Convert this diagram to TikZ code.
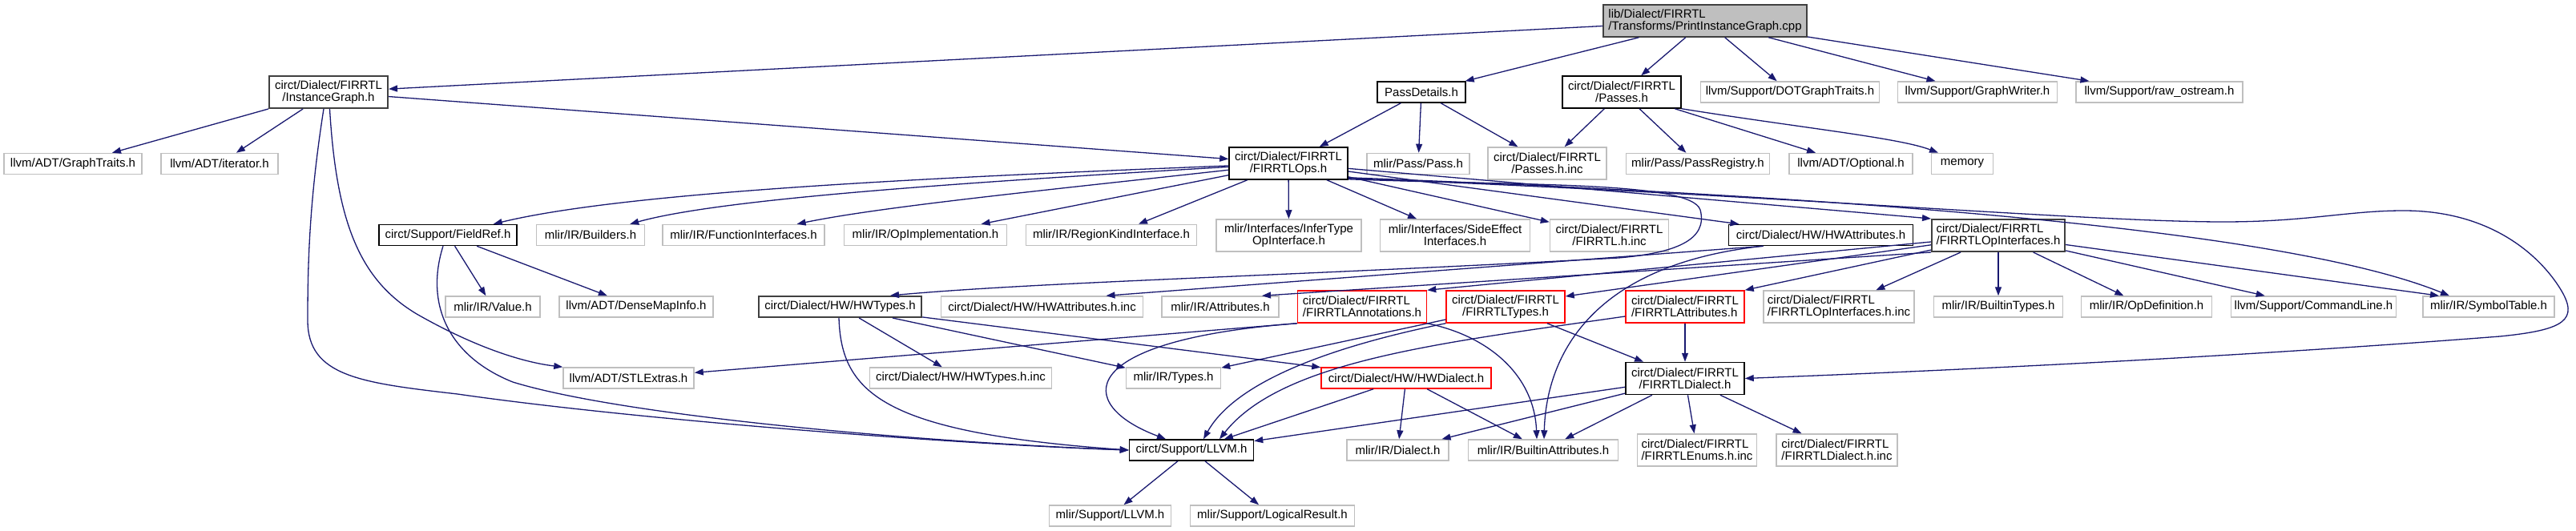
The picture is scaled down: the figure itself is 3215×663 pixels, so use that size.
\documentclass[tikz,border=0pt]{standalone}
\usepackage{fontspec}
\setmainfont{Liberation Sans}
\usetikzlibrary{arrows.meta}

\definecolor{edgeblue}{HTML}{191970}
\definecolor{extgray}{HTML}{BFBFBF}
\definecolor{rootline}{HTML}{404040}

\begin{document}
\begin{tikzpicture}[
    x = 1pt, y = -1pt,
    every node/.style = {font=\fontsize{15}{15}\selectfont},
    file/.style     = {rectangle, draw, line width=1.5pt, fill=white,
                       inner xsep=3pt, inner ysep=2pt,
                       minimum height=26pt, align=center},
    ext/.style      = {file, draw=extgray},
    doc/.style      = {file, draw=black},
    docg/.style     = {file, draw=rootline, line width=2pt},
    trunc/.style    = {file, draw=red},
    rootbox/.style  = {file, draw=rootline, fill=extgray},
    two/.style      = {minimum height=40pt},
    lft/.style      = {align=left},
    arr/.style      = {-{Triangle[length=11pt, width=8pt]}, line width=1.3pt, draw=edgeblue}
]
\useasboundingbox (0,0) rectangle (3215,663);

% rows 0 and 1
\node[rootbox, two, lft, minimum width=254pt] (root)    at (2128,26)    {lib/Dialect/FIRRTL\\/Transforms/PrintInstanceGraph.cpp};
\node[docg, two,  minimum width=148pt] (instg)   at (410,115)    {circt/Dialect/FIRRTL\\/InstanceGraph.h};
\node[doc,        minimum width=110pt] (passdet) at (1774,115)   {PassDetails.h};
\node[doc, two,   minimum width=148pt] (passes)  at (2024,115)   {circt/Dialect/FIRRTL\\/Passes.h};
\node[ext,        minimum width=223pt] (dotgt)   at (2234,115)   {llvm/Support/DOTGraphTraits.h};
\node[ext,        minimum width=199pt] (gwriter) at (2468,115)   {llvm/Support/GraphWriter.h};
\node[ext,        minimum width=208pt] (rawos)   at (2695,115)   {llvm/Support/raw\_ostream.h};

% row 2
\node[ext,        minimum width=172pt] (gtraits)  at (91,204.5)   {llvm/ADT/GraphTraits.h};
\node[ext,        minimum width=146pt] (iter)     at (274,204.5)  {llvm/ADT/iterator.h};
\node[doc, two,   minimum width=148pt] (ops)      at (1608,204)   {circt/Dialect/FIRRTL\\/FIRRTLOps.h};
\node[ext,        minimum width=128pt] (pass)     at (1770,204.5) {mlir/Pass/Pass.h};
\node[ext, two,   minimum width=148pt] (passinc)  at (1931,204)   {circt/Dialect/FIRRTL\\/Passes.h.inc};
\node[ext,        minimum width=179pt] (passreg)  at (2119,204.5) {mlir/Pass/PassRegistry.h};
\node[ext,        minimum width=154pt] (optional) at (2310,204.5) {llvm/ADT/Optional.h};
\node[ext,        minimum width=77pt]  (memory)   at (2449,204.5) {memory};

% row 3
\node[doc,        minimum width=172pt] (fieldref) at (559,293.5)  {circt/Support/FieldRef.h};
\node[ext,        minimum width=135pt] (builders) at (737,293.5)  {mlir/IR/Builders.h};
\node[ext,        minimum width=202pt] (funcif)   at (928,293.5)  {mlir/IR/FunctionInterfaces.h};
\node[ext,        minimum width=203pt] (opimpl)   at (1155,293.5) {mlir/IR/OpImplementation.h};
\node[ext,        minimum width=213pt] (regkind)  at (1387,293.5) {mlir/IR/RegionKindInterface.h};
\node[ext, two,   minimum width=181pt] (infer)    at (1608.5,294) {mlir/Interfaces/InferType\\OpInterface.h};
\node[ext, two,   minimum width=187pt] (sideeff)  at (1816,294)   {mlir/Interfaces/SideEffect\\Interfaces.h};
\node[ext, two,   minimum width=148pt] (firinc)   at (2008.5,294) {circt/Dialect/FIRRTL\\/FIRRTL.h.inc};
\node[doc,        minimum width=230pt] (hwattr)   at (2272.5,293.5) {circt/Dialect/HW/HWAttributes.h};
\node[docg, two, lft, minimum width=166pt] (opif) at (2494,294)   {circt/Dialect/FIRRTL\\/FIRRTLOpInterfaces.h};

% row 4
\node[ext,        minimum width=118pt] (value)     at (615,383)    {mlir/IR/Value.h};
\node[ext,        minimum width=192pt] (densemap)  at (794,383)    {llvm/ADT/DenseMapInfo.h};
\node[docg,       minimum width=203pt] (hwtypes)   at (1048.5,383) {circt/Dialect/HW/HWTypes.h};
\node[ext,        minimum width=252pt] (hwattrinc) at (1300.5,383) {circt/Dialect/HW/HWAttributes.h.inc};
\node[ext,        minimum width=146pt] (attrs)     at (1523,383)   {mlir/IR/Attributes.h};
\node[trunc, two, lft, minimum width=161pt] (annot)  at (1700,383) {circt/Dialect/FIRRTL\\/FIRRTLAnnotations.h};
\node[trunc, two, minimum width=148pt] (types)     at (1879,383)   {circt/Dialect/FIRRTL\\/FIRRTLTypes.h};
\node[trunc, two, lft, minimum width=148pt] (attrsF) at (2103,383) {circt/Dialect/FIRRTL\\/FIRRTLAttributes.h};
\node[ext, two, lft, minimum width=188pt] (opifinc) at (2295,383)  {circt/Dialect/FIRRTL\\/FIRRTLOpInterfaces.h.inc};
\node[ext,        minimum width=161pt] (btypes)    at (2494,383)   {mlir/IR/BuiltinTypes.h};
\node[ext,        minimum width=163pt] (opdef)     at (2679,383)   {mlir/IR/OpDefinition.h};
\node[ext,        minimum width=206pt] (cmdline)   at (2887.5,383) {llvm/Support/CommandLine.h};
\node[ext,        minimum width=164pt] (symtab)    at (3106,383)   {mlir/IR/SymbolTable.h};

% row 5
\node[ext,        minimum width=163pt] (stl)     at (784.5,472)  {llvm/ADT/STLExtras.h};
\node[ext,        minimum width=227pt] (hwtinc)  at (1199,472)   {circt/Dialect/HW/HWTypes.h.inc};
\node[ext,        minimum width=118pt] (irtypes) at (1464.5,472) {mlir/IR/Types.h};
\node[trunc,      minimum width=212pt] (hwdial)  at (1755,472)   {circt/Dialect/HW/HWDialect.h};
\node[doc, two,   minimum width=148pt] (dialect) at (2103,472.5) {circt/Dialect/FIRRTL\\/FIRRTLDialect.h};

% rows 6 and 7
\node[doc,        minimum width=155pt] (llvmh)   at (1487,562)   {circt/Support/LLVM.h};
\node[ext,        minimum width=127pt] (irdial)  at (1744.5,562) {mlir/IR/Dialect.h};
\node[ext,        minimum width=187pt] (battrs)  at (1926,562)   {mlir/IR/BuiltinAttributes.h};
\node[ext, two, lft, minimum width=149pt] (enuminc) at (2118,562) {circt/Dialect/FIRRTL\\/FIRRTLEnums.h.inc};
\node[ext, two, lft, minimum width=151pt] (dialinc) at (2292.5,562) {circt/Dialect/FIRRTL\\/FIRRTLDialect.h.inc};
\node[ext,        minimum width=152pt] (mllvm)   at (1385.5,644) {mlir/Support/LLVM.h};
\node[ext,        minimum width=205pt] (logres)  at (1588,644)   {mlir/Support/LogicalResult.h};

% PrintInstanceGraph.cpp
\draw[arr] (root) -- (instg);
\draw[arr] (root) -- (passdet);
\draw[arr] (root) -- (passes);
\draw[arr] (root) -- (dotgt);
\draw[arr] (root) -- (gwriter);
\draw[arr] (root) -- (rawos);

% InstanceGraph.h
\draw[arr] (instg) -- (gtraits);
\draw[arr] (instg) -- (iter);
\draw[arr] (instg) -- (ops);
\draw[arr] ([xshift=-6pt]instg.south) .. controls (386,250) and (384,330) .. (384,400)
    .. controls (384,470) and (450,478) .. (571,492)
    .. controls (800,525) and (1200,555) .. (llvmh.west);
\draw[arr] ([xshift=1.5pt]instg.south) .. controls (420,280) and (450,350) .. (520,392)
    .. controls (590,432) and (650,452) .. (stl.north west);

% PassDetails.h and Passes.h
\draw[arr] (passdet) -- (ops);
\draw[arr] (passdet) -- (pass);
\draw[arr] (passdet) -- (passinc);
\draw[arr] (passes) -- (passinc);
\draw[arr] (passes) -- (passreg);
\draw[arr] (passes) -- (optional);
\draw[arr] (passes.south east) .. controls (2250,160) and (2370,172) .. ([xshift=-30pt]memory.north);

% FieldRef.h
\draw[arr] (fieldref) -- (value);
\draw[arr] (fieldref) -- (densemap);
\draw[arr] ([xshift=-6pt]fieldref.south) .. controls (530,380) and (560,445) .. (640,477)
    .. controls (780,520) and (1150,552) .. (llvmh.west);

% FIRRTLOps.h
\draw[arr] (ops) .. controls (1150,222) and (780,240) .. (fieldref);
\draw[arr] (ops) .. controls (1200,228) and (900,248) .. (builders);
\draw[arr] (ops) .. controls (1300,238) and (1100,258) .. (funcif);
\draw[arr] (ops) -- (opimpl);
\draw[arr] (ops) -- (regkind);
\draw[arr] (ops) -- (infer);
\draw[arr] (ops) -- (sideeff);
\draw[arr] (ops) -- (firinc);
\draw[arr] (ops) -- (hwattr);
\draw[arr] (ops) -- (opif.north west);
\draw[arr] ([yshift=3pt]ops.south east) .. controls (2300,245) and (2850,285) .. ([xshift=-49pt]symtab.north);
\draw[arr] ([yshift=2pt]ops.south east) .. controls (2200,242) and (2600,277) .. (2775,277)
    .. controls (2880,277) and (2930,263) .. (3000,263)
    .. controls (3110,263) and (3170,320) .. (3195,360)
    .. controls (3220,400) and (3200,412) .. (3120,420)
    .. controls (2800,445) and (2450,462) .. (dialect.east);
\draw[arr] ([yshift=1pt]ops.south east) .. controls (1900,232) and (2110,226) .. (2122,262)
    .. controls (2132,300) and (2090,316) .. (2020,322)
    .. controls (1600,345) and (1300,352) .. ([xshift=-40pt]hwtypes.north east);

% FIRRTLOpInterfaces.h
\draw[arr] (opif) -- (annot.north east);
\draw[arr] (opif) -- ([yshift=13pt]types.east);
\draw[arr] (opif) -- (attrsF.north east);
\draw[arr] (opif.south west) -- ([xshift=52pt]attrs.north);
\draw[arr] (opif) -- (opifinc);
\draw[arr] (opif) -- (btypes);
\draw[arr] (opif) -- (opdef);
\draw[arr] (opif) -- (cmdline);
\draw[arr] (opif) -- ([xshift=-62pt]symtab.north);

% HWAttributes.h
\draw[arr] ([xshift=-72pt]hwattr.south) -- ([xshift=80pt]hwattrinc.north);
\draw[arr] ([xshift=-72pt]hwattr.south) .. controls (1990,330) and (1930,440) .. ([xshift=1pt]battrs.north);

% HWTypes.h
\draw[arr] (hwtypes) -- (hwtinc);
\draw[arr] (hwtypes) -- (irtypes);
\draw[arr] (hwtypes) -- (hwdial);
\draw[arr] ([xshift=-1.5pt]hwtypes.south) .. controls (1050,490) and (1100,540) .. (llvmh.west);

% FIRRTLAnnotations.h, FIRRTLTypes.h, FIRRTLAttributes.h
\draw[arr] (annot.south west) -- (stl);
\draw[arr] (annot.south west) .. controls (1340,425) and (1340,505) .. ([xshift=-32pt]llvmh.north);
\draw[arr] (annot.south east) .. controls (1860,420) and (1915,470) .. ([xshift=-8pt]battrs.north);
\draw[arr] (types) -- (dialect);
\draw[arr] (types) -- (irtypes);
\draw[arr] (types.south west) .. controls (1650,435) and (1540,480) .. ([xshift=15pt]llvmh.north);
\draw[arr] (attrsF) -- (dialect);
\draw[arr] ([yshift=-12pt]attrsF.west) .. controls (1800,428) and (1600,450) .. ([xshift=35pt]llvmh.north);

% HWDialect.h and FIRRTLDialect.h
\draw[arr] (hwdial) -- (llvmh);
\draw[arr] (hwdial) -- (irdial);
\draw[arr] (hwdial) -- (battrs);
\draw[arr] (dialect) -- (llvmh);
\draw[arr] (dialect) -- (irdial);
\draw[arr] (dialect) -- (battrs);
\draw[arr] (dialect) -- (enuminc);
\draw[arr] (dialect) -- (dialinc);

% LLVM.h
\draw[arr] (llvmh) -- (mllvm);
\draw[arr] (llvmh) -- (logres);
\end{tikzpicture}
\end{document}
